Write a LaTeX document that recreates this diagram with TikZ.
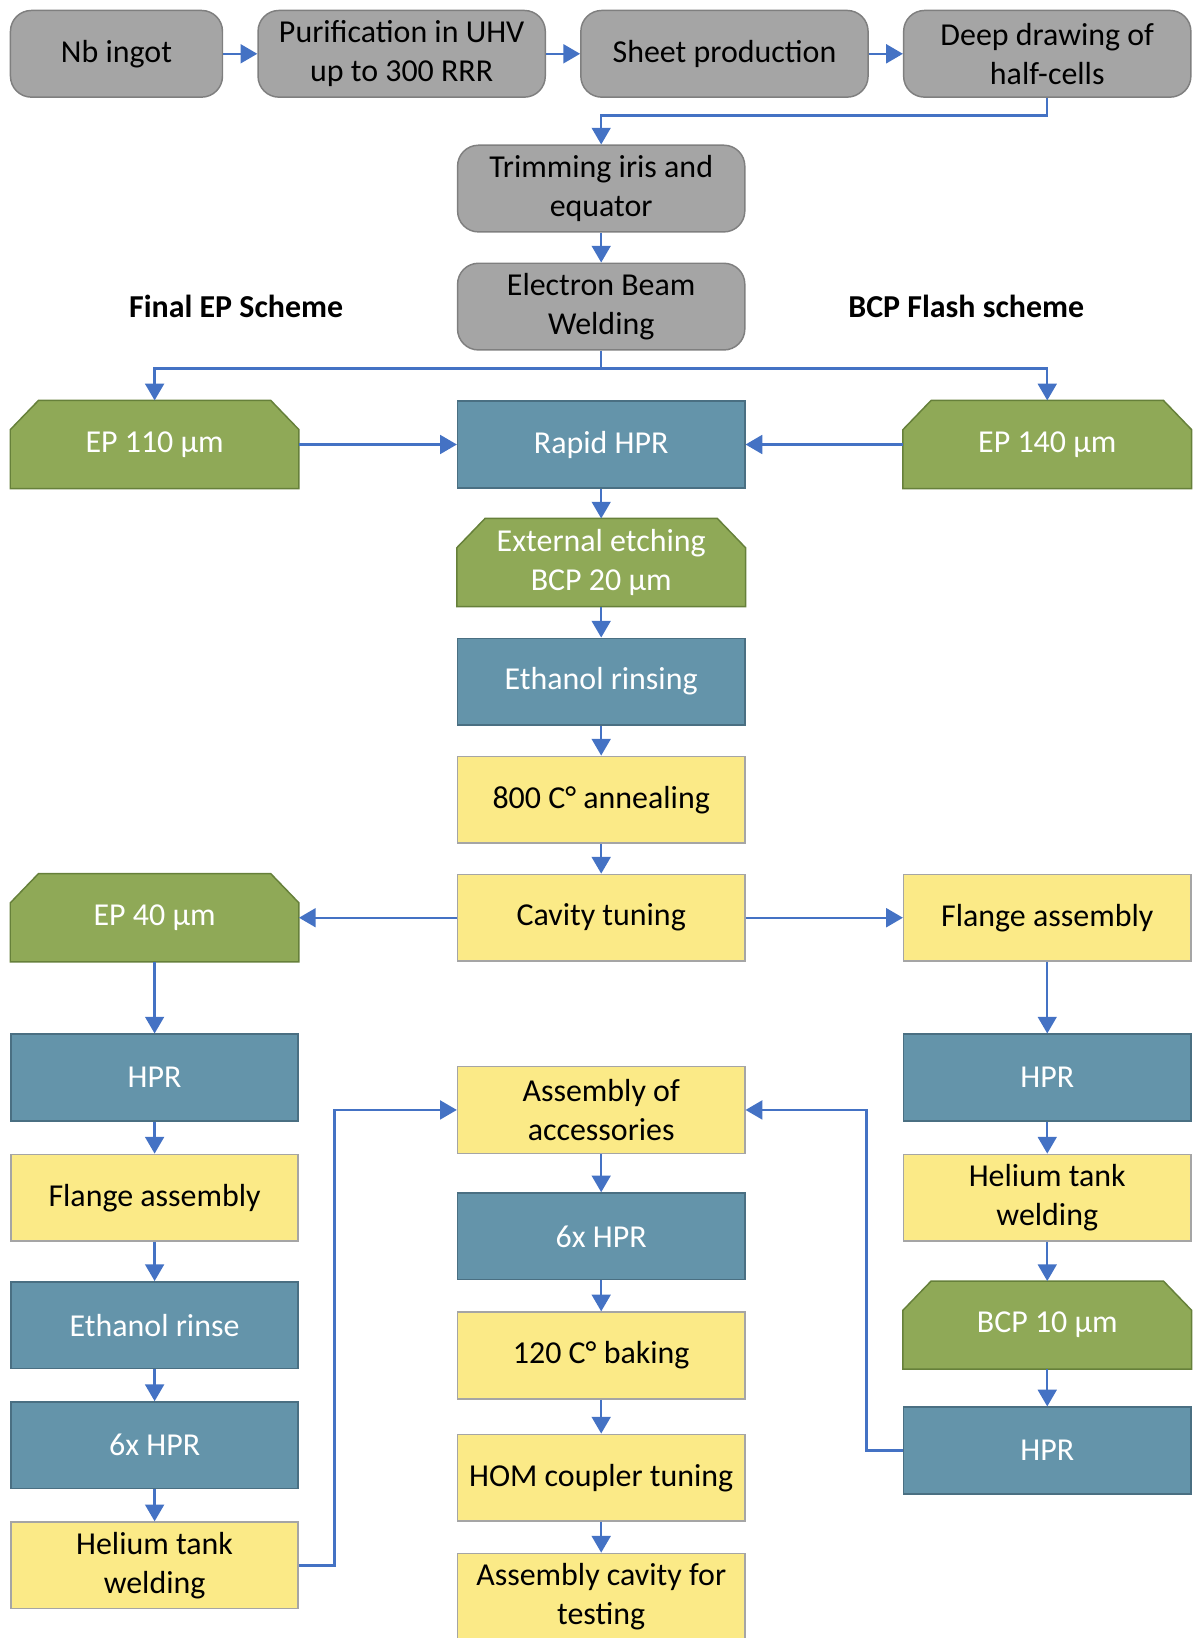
\documentclass[tikz,border=0pt]{standalone}
\usepackage{fontspec}
\setmainfont{Carlito}
\usetikzlibrary{arrows.meta,backgrounds}

\definecolor{boxgray}{HTML}{A5A5A5}
\definecolor{edgegray}{HTML}{7F7F7F}
\definecolor{hprblue}{HTML}{6494AA}
\definecolor{hpredge}{HTML}{4A6F82}
\definecolor{etchgreen}{HTML}{8FA957}
\definecolor{etchedge}{HTML}{66803A}
\definecolor{workyellow}{HTML}{FBEA87}
\definecolor{flowblue}{HTML}{4472C4}

\tikzset{
  basebox/.style={minimum width=5.5cm,minimum height=1.66cm,align=center,inner sep=2pt,
    line width=0.8pt,font=\fontsize{17.4}{21}\selectfont},
  prepbox/.style={basebox,rounded corners=0.4cm,fill=boxgray,draw=edgegray},
  rinsebox/.style={basebox,fill=hprblue,draw=hpredge,text=white},
  etchbox/.style={basebox,text=white},
  etchfill/.style={fill=etchgreen,draw=etchedge,line width=0.8pt},
  workbox/.style={basebox,fill=workyellow,draw=boxgray},
  title/.style={font=\fontsize{17.4}{21}\selectfont\bfseries},
  flow/.style={->,draw=flowblue,line width=1.3pt},
  >={Triangle[length=0.32cm,width=0.36cm]}
}

\begin{document}
\begin{tikzpicture}[x=0.02cm,y=-0.02cm]
\useasboundingbox (0,0) rectangle (1146,1568);

% Preparation of the half-cells
\node[prepbox,minimum width=4.06cm] (ingot) at (111.5,51.5) {Nb ingot};
\node[prepbox] (purif) at (384.5,51.5) {Purification in UHV\\up to 300 RRR};
\node[prepbox] (sheet) at (693.5,51.5) {Sheet production};
\node[prepbox] (deepdraw) at (1002.5,51.5) {Deep drawing of\\half-cells};
\node[prepbox] (trim) at (575.5,180.5) {Trimming iris and\\equator};
\node[prepbox] (ebw) at (575.5,293.5) {Electron Beam\\Welding};

% Scheme titles
\node[title] (epscheme) at (226,293) {Final EP Scheme};
\node[title] (bcpscheme) at (925,293) {BCP Flash scheme};

% Common part
\node[etchbox] (ep110) at (148,425.5) {EP 110 µm};
\node[rinsebox] (rapid) at (575.5,425.5) {Rapid HPR};
\node[etchbox] (ep140) at (1002.5,425.5) {EP 140 µm};
\node[etchbox] (extetch) at (575.5,538.5) {External etching\\BCP 20 µm};
\node[rinsebox] (ethanol) at (575.5,652.5) {Ethanol rinsing};
\node[workbox] (anneal) at (575.5,765.5) {800 C° annealing};
\node[workbox] (tuning) at (575.5,878.5) {Cavity tuning};

% Final EP branch
\node[etchbox] (ep40) at (148,878.5) {EP 40 µm};
\node[rinsebox] (hprL) at (148,1031.5) {HPR};
\node[workbox] (flangeL) at (148,1146.5) {Flange assembly};
\node[rinsebox] (rinseL) at (148,1268.5) {Ethanol rinse};
\node[rinsebox] (sixhprL) at (148,1383.5) {6x HPR};
\node[workbox] (heliumL) at (148,1498.5) {Helium tank\\welding};

% BCP flash branch
\node[workbox] (flangeR) at (1002.5,878.5) {Flange assembly};
\node[rinsebox] (hprR) at (1002.5,1031.5) {HPR};
\node[workbox] (heliumR) at (1002.5,1146.5) {Helium tank\\welding};
\node[etchbox] (bcp10) at (1002.5,1268.5) {BCP 10 µm};
\node[rinsebox] (hprRR) at (1002.5,1388.5) {HPR};

% Final steps
\node[workbox] (access) at (575.5,1062.5) {Assembly of\\accessories};
\node[rinsebox] (sixhprC) at (575.5,1183.5) {6x HPR};
\node[workbox] (baking) at (575.5,1297.5) {120 C° baking};
\node[workbox] (hom) at (575.5,1414.5) {HOM coupler tuning};
\node[workbox] (testing) at (575.5,1528.5) {Assembly cavity for\\testing};

% Etching boxes with cut top corners
\begin{scope}[on background layer]
\foreach \n in {ep110,ep140,extetch,ep40,bcp10}
  \draw[etchfill] (\n.south west) -- ([yshift=-0.56cm]\n.north west) -- ([xshift=0.54cm]\n.north west)
    -- ([xshift=-0.54cm]\n.north east) -- ([yshift=-0.56cm]\n.north east) -- (\n.south east) -- cycle;
\end{scope}

% Connectors
\draw[flow] (ingot) -- (purif);
\draw[flow] (purif) -- (sheet);
\draw[flow] (sheet) -- (deepdraw);
\draw[flow] (deepdraw.south) -- ++(0,17) -| (trim.north);
\draw[flow] (trim) -- (ebw);
\draw[flow] (ebw.south) -- ++(0,17) -| (ep110.north);
\draw[flow] (ebw.south) -- ++(0,17) -| (ep140.north);
\draw[flow] (ep110) -- (rapid);
\draw[flow] (ep140) -- (rapid);
\draw[flow] (rapid) -- (extetch);
\draw[flow] (extetch) -- (ethanol);
\draw[flow] (ethanol) -- (anneal);
\draw[flow] (anneal) -- (tuning);
\draw[flow] (tuning) -- (ep40);
\draw[flow] (tuning) -- (flangeR);
\draw[flow] (ep40) -- (hprL);
\draw[flow] (hprL) -- (flangeL);
\draw[flow] (flangeL) -- (rinseL);
\draw[flow] (rinseL) -- (sixhprL);
\draw[flow] (sixhprL) -- (heliumL);
\draw[flow] (flangeR) -- (hprR);
\draw[flow] (hprR) -- (heliumR);
\draw[flow] (heliumR) -- (bcp10);
\draw[flow] (bcp10) -- (hprRR);
\draw[flow] (heliumL.east) -- ++(34,0) |- (access.west);
\draw[flow] (hprRR.west) -- ++(-35,0) |- (access.east);
\draw[flow] (access) -- (sixhprC);
\draw[flow] (sixhprC) -- (baking);
\draw[flow] (baking) -- (hom);
\draw[flow] (hom) -- (testing);
\end{tikzpicture}
\end{document}
